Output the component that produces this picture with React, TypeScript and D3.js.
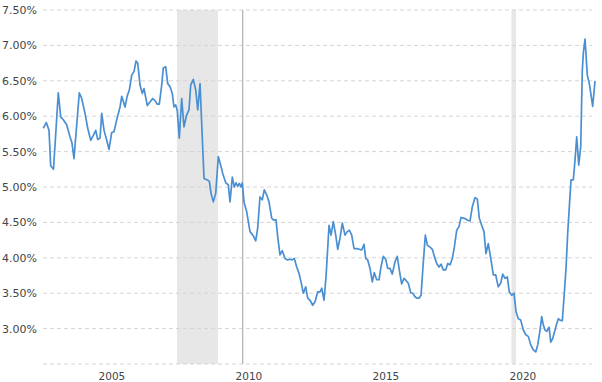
import React from 'react';
import * as d3 from 'd3';

// Observation dates (decimal years) and 30-year fixed mortgage rates (%)
const YEARS: number[] = [
  2003.036, 2003.146, 2003.245, 2003.307, 2003.409, 2003.584, 2003.672, 2003.766, 2003.891, 2004.011,
  2004.084, 2004.157, 2004.350, 2004.438, 2004.558, 2004.657, 2004.766, 2004.861, 2004.949, 2005.022,
  2005.106, 2005.168, 2005.252, 2005.350, 2005.434, 2005.533, 2005.617, 2005.715, 2005.836, 2005.898,
  2006.018, 2006.102, 2006.175, 2006.263, 2006.347, 2006.420, 2006.482, 2006.566, 2006.650, 2006.712,
  2006.832, 2006.931, 2007.029, 2007.113, 2007.197, 2007.270, 2007.358, 2007.416, 2007.504, 2007.577,
  2007.661, 2007.745, 2007.807, 2007.869, 2007.927, 2008.000, 2008.088, 2008.172, 2008.270, 2008.354,
  2008.416, 2008.511, 2008.599, 2008.672, 2008.755, 2008.901, 2009.022, 2009.095, 2009.157, 2009.241,
  2009.328, 2009.423, 2009.522, 2009.584, 2009.693, 2009.788, 2009.850, 2009.934, 2010.007, 2010.069,
  2010.131, 2010.190, 2010.252, 2010.299, 2010.361, 2010.460, 2010.580, 2010.701, 2010.788, 2010.861,
  2010.945, 2011.029, 2011.102, 2011.190, 2011.274, 2011.372, 2011.456, 2011.529, 2011.591, 2011.675,
  2011.759, 2011.858, 2011.956, 2012.040, 2012.124, 2012.197, 2012.285, 2012.369, 2012.442, 2012.526,
  2012.613, 2012.686, 2012.770, 2012.869, 2012.953, 2013.051, 2013.135, 2013.197, 2013.281, 2013.354,
  2013.464, 2013.536, 2013.620, 2013.708, 2013.781, 2013.865, 2013.949, 2014.047, 2014.131, 2014.204,
  2014.292, 2014.376, 2014.474, 2014.569, 2014.657, 2014.741, 2014.803, 2014.876, 2014.960, 2015.044,
  2015.117, 2015.204, 2015.288, 2015.361, 2015.445, 2015.533, 2015.606, 2015.690, 2015.774, 2015.872,
  2015.956, 2016.029, 2016.117, 2016.201, 2016.274, 2016.358, 2016.445, 2016.518, 2016.602, 2016.664,
  2016.748, 2016.821, 2016.905, 2016.978, 2017.051, 2017.150, 2017.234, 2017.307, 2017.394, 2017.478,
  2017.551, 2017.635, 2017.723, 2017.796, 2017.880, 2017.964, 2018.037, 2018.124, 2018.208, 2018.281,
  2018.365, 2018.453, 2018.526, 2018.610, 2018.693, 2018.792, 2018.876, 2018.949, 2019.036, 2019.120,
  2019.193, 2019.277, 2019.376, 2019.460, 2019.547, 2019.642, 2019.730, 2019.803, 2019.887, 2019.971,
  2020.044, 2020.131, 2020.215, 2020.288, 2020.372, 2020.460, 2020.555, 2020.653, 2020.737, 2020.825,
  2020.920, 2021.007, 2021.080, 2021.164, 2021.226, 2021.285, 2021.347, 2021.409, 2021.493, 2021.555,
  2021.628, 2021.712, 2021.774, 2021.832, 2021.894, 2021.978, 2022.051, 2022.113, 2022.175, 2022.234,
  2022.296, 2022.380, 2022.442, 2022.504, 2022.577, 2022.650, 2022.708, 2022.745, 2022.807, 2022.891,
  2022.964, 2023.026, 2023.088, 2023.172,
];

const RATES: number[] = [
  5.83, 5.91, 5.80, 5.30, 5.25, 6.33, 5.99, 5.95, 5.88, 5.71,
  5.62, 5.40, 6.33, 6.25, 6.04, 5.83, 5.66, 5.73, 5.80, 5.67,
  5.69, 6.04, 5.80, 5.66, 5.53, 5.77, 5.78, 5.95, 6.13, 6.28,
  6.13, 6.29, 6.37, 6.58, 6.63, 6.78, 6.75, 6.44, 6.32, 6.39,
  6.15, 6.20, 6.25, 6.22, 6.17, 6.17, 6.44, 6.68, 6.70, 6.46,
  6.42, 6.32, 6.13, 6.16, 6.08, 5.69, 6.25, 5.85, 6.02, 6.09,
  6.44, 6.52, 6.37, 6.09, 6.46, 5.12, 5.10, 5.08, 4.91, 4.79,
  4.91, 5.43, 5.29, 5.19, 5.06, 5.03, 4.79, 5.14, 5.00, 5.06,
  5.01, 5.05, 5.00, 5.06, 4.79, 4.65, 4.37, 4.31, 4.24, 4.42,
  4.86, 4.82, 4.96, 4.89, 4.79, 4.56, 4.53, 4.54, 4.30, 4.04,
  4.10, 3.99, 3.97, 3.98, 3.97, 3.99, 3.87, 3.78, 3.66, 3.50,
  3.59, 3.43, 3.40, 3.33, 3.38, 3.52, 3.52, 3.57, 3.40, 3.73,
  4.46, 4.32, 4.51, 4.32, 4.12, 4.28, 4.49, 4.32, 4.37, 4.39,
  4.32, 4.13, 4.13, 4.12, 4.11, 4.19, 3.99, 3.97, 3.85, 3.66,
  3.79, 3.69, 3.69, 3.87, 4.02, 3.98, 3.85, 3.85, 3.77, 3.94,
  4.02, 3.83, 3.63, 3.71, 3.68, 3.64, 3.51, 3.50, 3.45, 3.43,
  3.43, 3.47, 3.94, 4.32, 4.18, 4.15, 4.12, 4.02, 3.92, 3.87,
  3.91, 3.83, 3.83, 3.92, 3.90, 3.99, 4.15, 4.39, 4.44, 4.57,
  4.56, 4.55, 4.53, 4.52, 4.72, 4.85, 4.83, 4.56, 4.46, 4.37,
  4.06, 4.20, 3.97, 3.76, 3.76, 3.59, 3.64, 3.77, 3.71, 3.73,
  3.52, 3.47, 3.50, 3.24, 3.14, 3.12, 2.98, 2.91, 2.89, 2.77,
  2.70, 2.67, 2.77, 2.98, 3.17, 3.05, 2.98, 2.96, 3.02, 2.81,
  2.86, 2.98, 3.07, 3.14, 3.12, 3.11, 3.50, 3.85, 4.35, 4.72,
  5.10, 5.10, 5.38, 5.71, 5.31, 5.57, 6.65, 6.89, 7.09, 6.58,
  6.46, 6.30, 6.14, 6.50,
];

const Y_TICKS: number[] = [2.5, 3.0, 3.5, 4.0, 4.5, 5.0, 5.5, 6.0, 6.5, 7.0, 7.5];
const Y_LABEL_MIN = 3.0;
const X_LABEL_YEARS: number[] = [2005, 2010, 2015, 2020];
const RECESSION_STARTS: string[] = ['2007-12-01', '2020-02-15'];
const RECESSION_ENDS: string[] = ['2009-06-01', '2020-04-15'];
const MARKER_DATE = '2010-04-25';

function decYear(y: number): Date {
  const yr = Math.floor(y);
  const a = Date.UTC(yr, 0, 1);
  const b = Date.UTC(yr + 1, 0, 1);
  return new Date(a + (y - yr) * (b - a));
}
const iso = (s: string) => new Date(s + 'T00:00:00Z');

export default function App() {
  const W = 602;
  const H = 382;
  const gridLeft = 43;
  const gridRight = 592;
  const top = 10;
  const bottom = 364;
  const font = '"DejaVu Sans", Verdana, sans-serif';

  const x = d3
    .scaleTime()
    .domain([new Date(Date.UTC(2003, 0, 1)), new Date(Date.UTC(2023, 0, 1))])
    .range([42.3, 590.3]);
  const y = d3.scaleLinear().domain([2.5, 7.5]).range([bottom, top]);

  const n = Math.min(YEARS.length, RATES.length);
  const data = d3.range(n).map((i) => ({ d: decYear(YEARS[i]), v: RATES[i] }));
  const line = d3
    .line<{ d: Date; v: number }>()
    .x((p) => x(p.d))
    .y((p) => y(p.v));

  return (
    <svg
      width={W}
      height={H}
      style={{ position: 'absolute', left: 0, top: 0, background: '#fff' }}
    >
      {RECESSION_STARTS.map((s, i) => {
        const x0 = x(iso(s));
        const x1 = x(iso(RECESSION_ENDS[i]));
        return (
          <rect key={s} x={x0} y={top} width={x1 - x0} height={bottom - top} fill="#e7e7e7" />
        );
      })}
      {Y_TICKS.map((t) => (
        <line
          key={t}
          x1={gridLeft}
          x2={gridRight}
          y1={y(t)}
          y2={y(t)}
          stroke="#d4d4d4"
          strokeWidth={1}
          strokeDasharray="4,3"
        />
      ))}
      <line
        x1={x(iso(MARKER_DATE))}
        x2={x(iso(MARKER_DATE))}
        y1={top}
        y2={bottom}
        stroke="#b5b5b5"
        strokeWidth={1.3}
      />
      {Y_TICKS.filter((t) => t >= Y_LABEL_MIN).map((t) => (
        <text
          key={t}
          x={37}
          y={y(t) + 4}
          textAnchor="end"
          fontFamily={font}
          fontSize={11}
          fill="#444"
        >
          {t.toFixed(2)}%
        </text>
      ))}
      {X_LABEL_YEARS.map((yr) => (
        <text
          key={yr}
          x={x(decYear(yr + 0.54))}
          y={380}
          textAnchor="middle"
          fontFamily={font}
          fontSize={10.5}
          fill="#444"
        >
          {yr}
        </text>
      ))}
      <path d={line(data) || ''} fill="none" stroke="#4b8fd3" strokeWidth={1.7} strokeLinejoin="round" />
    </svg>
  );
}
